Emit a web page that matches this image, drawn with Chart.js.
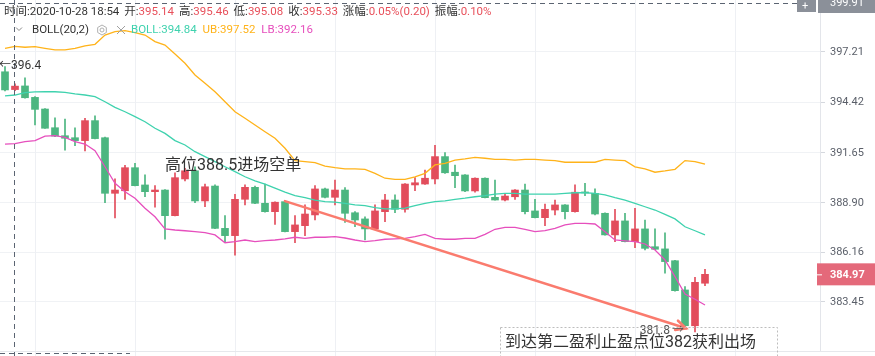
<!DOCTYPE html>
<html><head><meta charset="utf-8">
<script src="https://cdn.jsdelivr.net/npm/chart.js@4.4.1/dist/chart.umd.min.js"></script>
<style>html,body{margin:0;padding:0;background:#fff;overflow:hidden}#wrap{width:875px;height:356px;position:relative}</style>
</head><body><div id="wrap"><canvas id="c" width="875" height="356"></canvas></div>
<script>
// ---- data ----
const openV  = [396.12,395.14,395.34,394.71,394.07,393.04,392.60,392.49,392.33,393.43,392.49,389.43,389.57,390.84,389.89,389.52,389.61,388.20,390.22,390.67,389.01,389.83,387.50,387.10,389.10,389.76,388.88,388.42,388.97,387.32,387.65,388.24,389.67,389.21,389.61,388.36,388.02,387.47,388.42,389.06,388.55,389.89,389.94,390.22,391.45,390.59,390.44,389.56,390.26,389.21,389.06,389.24,389.61,388.46,388.09,388.51,388.79,388.42,389.50,389.43,388.33,387.14,387.91,386.77,387.47,386.49,386.37,385.72,384.11,382.14,384.48];
const highV  = [396.40,395.46,395.79,394.75,394.10,393.59,393.52,393.04,393.56,393.69,392.52,390.22,390.97,391.08,390.44,389.85,389.63,390.56,390.81,390.89,389.94,389.89,388.20,389.38,389.89,389.83,389.94,388.96,388.99,388.20,388.79,389.85,389.72,390.16,389.74,388.42,388.14,388.79,389.38,389.34,389.96,390.29,390.71,392.07,391.67,390.99,390.46,390.28,390.28,390.16,389.43,389.63,389.94,389.10,388.84,389.06,388.81,389.89,389.98,389.67,388.36,388.55,388.33,388.60,387.96,387.47,387.26,385.74,384.29,384.81,385.25];
const lowV   = [395.07,395.08,394.66,393.19,393.00,392.55,391.81,392.05,391.76,392.42,388.91,388.07,389.10,389.83,389.24,388.66,386.90,388.18,390.11,388.91,388.69,387.48,386.73,386.03,388.79,388.86,388.39,387.72,387.30,386.71,387.10,387.96,389.18,388.79,387.83,387.59,386.86,387.45,387.87,388.36,388.39,389.57,389.92,389.94,390.53,389.74,389.52,389.49,389.17,389.05,389.01,389.10,388.29,388.07,387.65,388.24,388.02,388.39,389.30,388.24,387.12,386.77,386.75,386.44,386.31,386.33,385.03,384.05,382.12,381.80,384.35];
const closeV = [395.12,395.33,394.69,394.05,393.01,392.58,392.46,392.33,393.43,392.44,389.43,389.61,390.84,389.85,389.52,389.61,388.20,390.29,390.67,389.01,389.79,387.50,387.10,389.10,389.76,388.88,388.42,388.94,387.32,387.69,388.29,389.67,389.21,389.61,388.33,387.96,387.47,388.46,389.06,388.55,389.94,390.01,390.26,391.45,390.56,390.40,389.56,390.26,389.19,389.06,389.28,389.61,388.42,388.09,388.55,388.79,388.42,389.49,389.45,388.29,387.14,387.91,386.77,387.47,386.40,386.35,385.67,384.07,382.14,384.53,384.97];
const bollMid = [394.79,394.84,394.97,395.01,395.02,395.02,394.99,394.90,394.84,394.75,394.47,394.16,393.92,393.65,393.37,393.01,392.73,392.33,392.09,391.72,391.45,391.17,390.89,390.62,390.34,390.12,389.94,389.71,389.49,389.30,389.19,389.06,388.97,388.94,388.88,388.79,388.75,388.64,388.57,388.57,388.61,388.75,388.88,388.97,389.01,389.10,389.16,389.24,389.30,389.39,389.43,389.43,389.38,389.38,389.38,389.39,389.43,389.46,389.46,389.43,389.34,389.19,389.06,388.88,388.69,388.51,388.27,388.02,387.59,387.37,387.14];
const bollUB  = [397.41,397.52,397.47,397.50,397.41,397.32,397.32,397.41,397.54,397.63,398.14,398.33,398.38,398.27,398.14,397.78,397.59,397.10,396.59,395.94,395.49,395.02,394.47,393.92,393.56,393.19,392.82,392.46,391.91,391.23,391.17,391.12,390.93,390.84,390.77,390.77,390.75,390.53,390.26,390.20,390.20,390.34,390.53,390.99,391.08,391.26,391.32,391.41,391.36,391.30,391.30,391.26,391.30,391.30,391.26,391.23,391.14,391.14,391.14,391.14,391.30,391.26,391.23,390.89,390.77,390.59,390.66,390.75,391.23,391.17,391.03];
const bollLB  = [392.14,392.16,392.27,392.33,392.58,392.60,392.51,392.27,392.14,391.78,390.89,389.98,389.52,389.16,388.61,388.14,387.47,387.41,387.37,387.32,387.26,387.14,386.71,386.77,386.86,386.77,386.82,386.86,386.92,387.01,386.95,387.01,387.01,387.04,386.97,386.86,386.77,386.82,386.90,386.92,386.95,387.04,387.17,386.95,386.90,386.90,386.95,386.95,387.17,387.45,387.56,387.56,387.45,387.32,387.37,387.50,387.69,387.78,387.78,387.74,387.32,386.86,386.81,386.77,386.64,386.31,385.76,384.84,383.89,383.60,383.28];
const yTicks = [383.45, 386.16, 388.90, 391.65, 394.42, 397.21];
const emptySlots = 11;                 // blank space to the right of the last candle
const categories = openV.map((_, i) => { const m = 53 + i; return (18 + Math.floor(m / 60)) + ':' + String(m % 60).padStart(2, '0'); })
  .concat(new Array(emptySlots).fill(''));
const hoverIdx = 1;
const entryLine = { x0: 28, y0: 389.0, x1: 68.1, y1: 382.0 };
const crossPrice = 399.91;

// ---- styles ----
const RED = '#e24d5c', GREEN = '#4cb680';
const candleColors = closeV.map((c, i) => c >= openV[i] ? RED : GREEN);

const overlay = {
  id: 'overlay',
  beforeDatasetsDraw(chart) {
    const { ctx, scales: { x } } = chart;
    ctx.save();
    ctx.strokeStyle = '#eef0f4'; ctx.lineWidth = 1;
    for (let i = 3; i < categories.length; i += 10) {
      const px = Math.round(x.getPixelForValue(i)) + 0.5;
      ctx.beginPath(); ctx.moveTo(px, 0); ctx.lineTo(px, 356); ctx.stroke();
    }
    ctx.restore();
  },
  afterDatasetsDraw(chart) {
    const { ctx, chartArea: a, scales: { x, y } } = chart;
    ctx.save();
    // trade arrow
    const ax0 = x.getPixelForValue(entryLine.x0), ay0 = y.getPixelForValue(entryLine.y0);
    const ax1 = x.getPixelForValue(entryLine.x1), ay1 = y.getPixelForValue(entryLine.y1);
    ctx.strokeStyle = '#fa7b6e'; ctx.lineWidth = 2.6; ctx.lineCap = 'round';
    ctx.beginPath(); ctx.moveTo(ax0, ay0); ctx.lineTo(ax1, ay1); ctx.stroke();
    const ang = Math.atan2(ay1 - ay0, ax1 - ax0);
    ctx.beginPath();
    ctx.moveTo(ax1 - 11 * Math.cos(ang - 0.45), ay1 - 11 * Math.sin(ang - 0.45));
    ctx.lineTo(ax1, ay1);
    ctx.lineTo(ax1 - 11 * Math.cos(ang + 0.45), ay1 - 11 * Math.sin(ang + 0.45));
    ctx.stroke();

    // crosshair
    ctx.setLineDash([5, 4]); ctx.strokeStyle = '#5b6472'; ctx.lineWidth = 1; ctx.lineCap = 'butt';
    const cx = Math.round(x.getPixelForValue(hoverIdx)) - 0.5;
    ctx.beginPath(); ctx.moveTo(cx, 0); ctx.lineTo(cx, 356); ctx.stroke();
    const cy = Math.round(y.getPixelForValue(crossPrice)) + 0.5;
    ctx.beginPath(); ctx.moveTo(0, cy); ctx.lineTo(797, cy); ctx.stroke();
    ctx.beginPath(); ctx.moveTo(0, 353.5); ctx.lineTo(130, 353.5); ctx.stroke();
    ctx.setLineDash([]);

    // bottom border
    ctx.strokeStyle = '#e6e8ec';
    ctx.beginPath(); ctx.moveTo(0, a.bottom + 0.5); ctx.lineTo(875, a.bottom + 0.5); ctx.stroke();

    // high / low markers
    ctx.font = '12px Roboto, "Noto Sans CJK SC", sans-serif';
    ctx.textBaseline = 'middle';
    let hi = 0; highV.forEach((v, i) => { if (v > highV[hi]) hi = i; });
    let lo = 0; lowV.forEach((v, i) => { if (v < lowV[lo]) lo = i; });
    const hx = x.getPixelForValue(hi), hy = y.getPixelForValue(highV[hi]);
    ctx.fillStyle = '#333';
    ctx.textAlign = 'left';
    ctx.fillText('←', hx - 6, hy - 1);
    ctx.fillText(highV[hi].toFixed(1), hx + 6, hy - 1);
    const lx = x.getPixelForValue(lo), ly = y.getPixelForValue(lowV[lo]);
    ctx.fillStyle = '#555';
    ctx.textAlign = 'right';
    ctx.fillText(lowV[lo].toFixed(1), lx - 25, ly - 1);
    ctx.textAlign = 'left';
    ctx.fillText('→', lx - 23, ly - 1);

    // annotation texts
    ctx.fillStyle = '#333';
    ctx.font = '16px Roboto, "Noto Sans CJK SC", sans-serif';
    ctx.fillText('高位388.5进场空单', 165, 166);
    ctx.setLineDash([2, 2]); ctx.strokeStyle = '#bdbdbd'; ctx.lineWidth = 1;
    ctx.strokeRect(500.5, 327.5, 277, 40);
    ctx.setLineDash([]);
    ctx.fillText('到达第二盈利止盈点位382获利出场', 505, 343);
    ctx.restore();
  },
  afterDraw(chart) {
    const { ctx, chartArea: a, scales: { y } } = chart;
    ctx.save();
    // header line 1
    ctx.textBaseline = 'middle'; ctx.textAlign = 'left';
    ctx.font = '11.5px Roboto, "Noto Sans CJK SC", sans-serif';
    const DARK = '#333', VAL = '#e8505b';
    const line1 = [['时间:', DARK], ['2020-10-28 18:54', DARK, 5], ['开:', DARK], [openV[hoverIdx].toFixed(2), VAL, 5],
      ['高:', DARK], [highV[hoverIdx].toFixed(2), VAL, 5], ['低:', DARK], [lowV[hoverIdx].toFixed(2), VAL, 5],
      ['收:', DARK], [closeV[hoverIdx].toFixed(2), VAL, 5], ['涨幅:', DARK], ['0.05%(0.20)', VAL, 5], ['振幅:', DARK], ['0.10%', VAL]];
    let px = 4;
    line1.forEach(([t, c, g]) => { ctx.fillStyle = c; ctx.fillText(t, px, 12); px += ctx.measureText(t).width + (g || 0); });
    // header line 2
    ctx.strokeStyle = '#888'; ctx.lineWidth = 1;
    ctx.beginPath(); ctx.moveTo(16, 27.5); ctx.lineTo(19, 30.5); ctx.lineTo(22, 27.5); ctx.stroke();
    ctx.fillStyle = '#333'; ctx.fillText('BOLL(20,2)', 32, 30);
    // gear
    ctx.strokeStyle = '#b0b0b0';
    ctx.beginPath();
    for (let k = 0; k < 6; k++) { const an = Math.PI / 6 + k * Math.PI / 3; const gx = 102 + 5 * Math.cos(an), gy = 30 + 5 * Math.sin(an); k ? ctx.lineTo(gx, gy) : ctx.moveTo(gx, gy); }
    ctx.closePath(); ctx.stroke();
    ctx.beginPath(); ctx.arc(102, 30, 2, 0, Math.PI * 2); ctx.stroke();
    ctx.strokeStyle = '#a0a0a0';
    ctx.beginPath(); ctx.moveTo(117, 26); ctx.lineTo(125, 34); ctx.moveTo(125, 26); ctx.lineTo(117, 34); ctx.stroke();
    const line2 = [['BOLL:' + bollMid[hoverIdx].toFixed(2), '#3fd2ae'], ['UB:' + bollUB[hoverIdx].toFixed(2), '#ffb31a'], ['LB:' + bollLB[hoverIdx].toFixed(2), '#e64fbd']];
    px = 131;
    line2.forEach(([t, c]) => { ctx.fillStyle = c; ctx.fillText(t, px, 30); px += ctx.measureText(t).width + 6; });

    // axis price boxes
    const r = a.right;
    ctx.font = '11px Roboto, sans-serif';
    ctx.fillStyle = '#8b9099';
    ctx.fillRect(797, 0, 19, 12);
    ctx.fillRect(r - 2, 0, 875 - r + 2, 13);
    ctx.fillStyle = '#fff';
    ctx.fillText('+', 802, 6);
    ctx.fillText(crossPrice.toFixed(2), 830, y.getPixelForValue(crossPrice));
    const last = closeV[closeV.length - 1], ly = y.getPixelForValue(last);
    ctx.fillStyle = '#e4697a';
    ctx.fillRect(r - 3, ly - 11, 875 - r + 3, 22);
    ctx.strokeStyle = '#fff'; ctx.beginPath(); ctx.moveTo(r - 3, ly + 0.5); ctx.lineTo(r + 2, ly + 0.5); ctx.stroke();
    ctx.fillStyle = '#fff'; ctx.font = 'bold 11px Roboto, sans-serif';
    ctx.fillText(last.toFixed(2), 830, ly + 0.5);
    ctx.restore();
  }
};

new Chart(document.getElementById('c'), {
  type: 'bar',
  data: {
    labels: categories,
    datasets: [
      { type: 'line', label: 'BOLL', data: bollMid, borderColor: '#3fd2ae', borderWidth: 1.3, pointRadius: 0, tension: 0, order: 0 },
      { type: 'line', label: 'UB', data: bollUB, borderColor: '#ffb31a', borderWidth: 1.3, pointRadius: 0, tension: 0, order: 0 },
      { type: 'line', label: 'LB', data: bollLB, borderColor: '#e64fbd', borderWidth: 1.3, pointRadius: 0, tension: 0, order: 0 },
      { label: 'body', data: openV.map((o, i) => [o, closeV[i]]), backgroundColor: candleColors, barThickness: 7, minBarLength: 1, grouped: false, order: 1 },
      { label: 'wick', data: lowV.map((l, i) => [l, highV[i]]), backgroundColor: candleColors, barThickness: 1, grouped: false, order: 2 }
    ]
  },
  options: {
    responsive: false, animation: false, maintainAspectRatio: false,
    layout: { padding: { left: 0, right: 0, top: 0, bottom: 5 } },
    plugins: { legend: { display: false }, tooltip: { enabled: false } },
    scales: {
      x: { type: 'category', display: false, offset: true },
      y: {
        position: 'right', min: 380.75, max: 400.07,
        afterBuildTicks: s => { s.ticks = yTicks.map(v => ({ value: v })); },
        afterFit: s => { s.width = 55; s.paddingTop = 0; s.paddingBottom = 0; },
        grid: { color: '#f0f2f5', tickLength: 5, tickColor: '#d5d8de' },
        border: { color: '#e3e5ea' },
        ticks: { color: '#5a5f69', font: { size: 11, family: 'Roboto' }, padding: 5, autoSkip: false, callback: v => Number(v).toFixed(2) }
      }
    }
  },
  plugins: [overlay]
});
</script></body></html>
